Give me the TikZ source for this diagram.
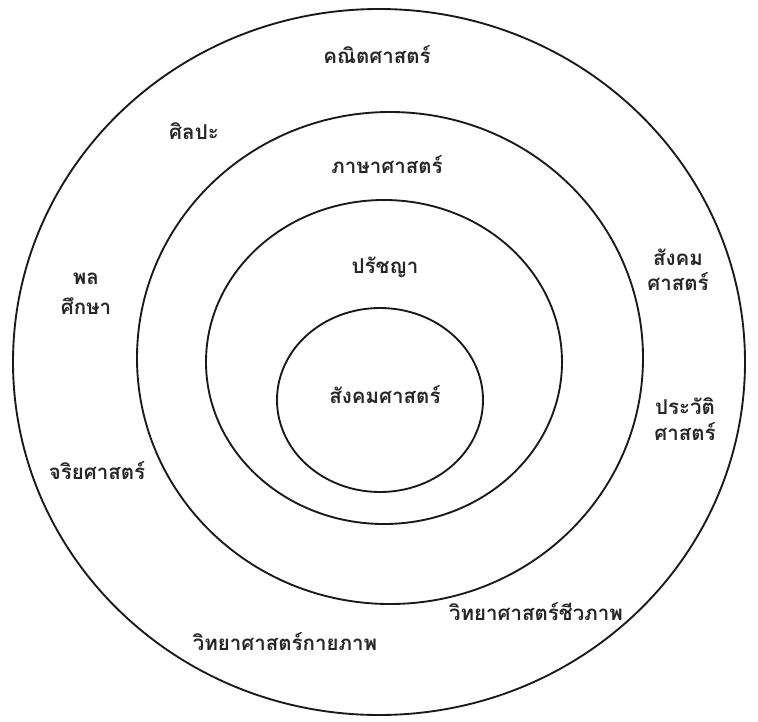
\documentclass[tikz,border=0pt]{standalone}
\usepackage{fontspec}
\newfontfamily\thaifont[Script=Thai]{Loma}
\usetikzlibrary{positioning}
\definecolor{ringInk}{HTML}{1A1A1A}
\definecolor{ringText}{HTML}{262626}
\newcommand{\ringLineW}{1.6pt}
\tikzset{
  ring/.style={ringInk, line width=\ringLineW},
  field/.style={font=\thaifont\bfseries\fontsize{17.5}{21}\selectfont, text=ringText, align=center, inner sep=1pt},
}

\begin{document}
\begin{tikzpicture}[x=0.03cm, y=-0.03cm, line cap=round, line join=round]
  \useasboundingbox (0,0) rectangle (758,721);

  % ===== Rings =====
  \draw[ring] (379,362) ellipse (366 and 353);
  \draw[ring] (390,358) ellipse (253 and 246);
  \draw[ring] (384,362) ellipse (178 and 162);
  \draw[ring] (380,400) ellipse (103 and 92);

  % ===== Centre and inner rings =====
  \node[field] (core) at (385,395) {สังคมศาสตร์};
  \node[field] (philo) at (385,267) {ปรัชญา};
  \node[field] (lingu) at (387,165) {ภาษาศาสตร์};

  % ===== Outer ring =====
  \node[field] (maths) at (377,55) {คณิตศาสตร์};
  \node[field] (arts) at (194,131) {ศิลปะ};
  \node[field] (physed) at (86,294) {พล\\[5pt]ศึกษา};
  \node[field] (socio) at (678,270) {สังคม\\[0pt]ศาสตร์};
  \node[field] (hist) at (685,419) {ประวัติ\\[1pt]ศาสตร์};
  \node[field] (ethics) at (97,471) {จริยศาสตร์};
  \node[field] (biosci) at (536,612) {วิทยาศาสตร์ชีวภาพ};
  \node[field] (physci) at (285,642) {วิทยาศาสตร์กายภาพ};
\end{tikzpicture}
\end{document}
